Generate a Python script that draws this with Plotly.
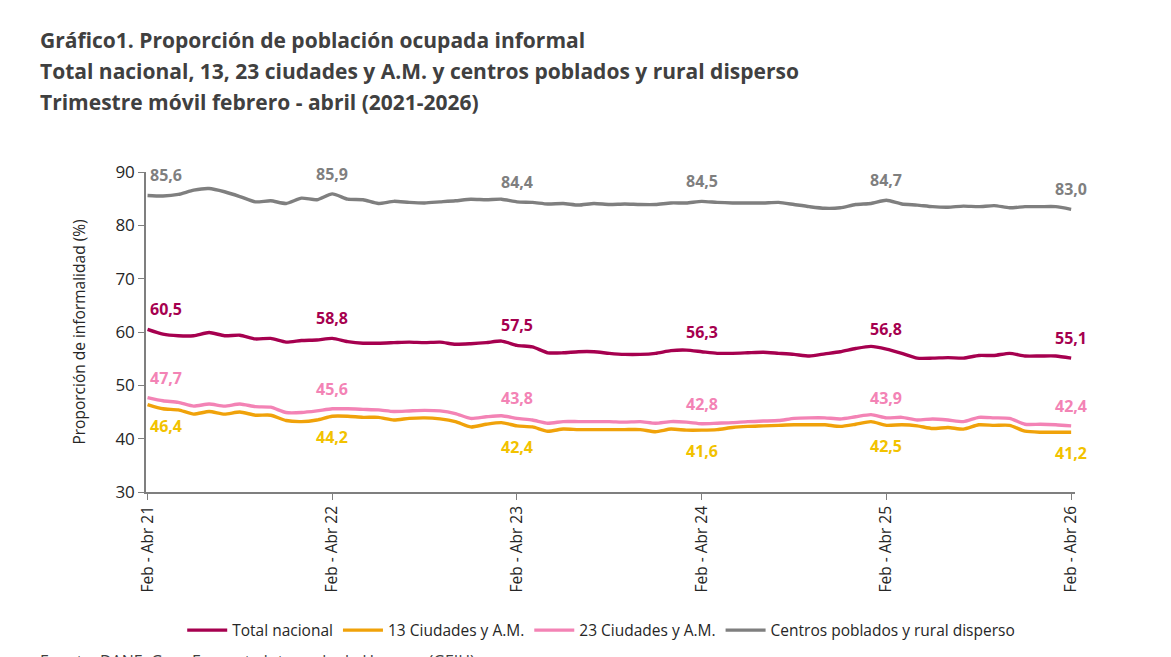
import plotly.graph_objects as go

# periodos: trimestre móvil, índice 0 = Feb - Abr 21 ... 60 = Feb - Abr 26
periodos = list(range(61))
tick_pos = [0, 12, 24, 36, 48, 60]
tick_labels = ["Feb - Abr 21", "Feb - Abr 22", "Feb - Abr 23",
               "Feb - Abr 24", "Feb - Abr 25", "Feb - Abr 26"]

total_nacional = [
    60.5, 59.6, 59.3, 59.3, 59.9, 59.3, 59.4, 58.7, 58.8, 58.1,
    58.4, 58.5, 58.8, 58.2, 57.9, 57.9, 58.0, 58.1, 58.0, 58.1,
    57.7, 57.8, 58.0, 58.3, 57.5, 57.2, 56.1, 56.1, 56.3, 56.3,
    56.0, 55.8, 55.8, 56.0, 56.5, 56.6, 56.3, 56.0, 56.0, 56.1,
    56.2, 56.0, 55.8, 55.5, 55.9, 56.3, 56.9, 57.3, 56.8, 56.0,
    55.1, 55.1, 55.2, 55.1, 55.6, 55.6, 56.0, 55.5, 55.5, 55.5, 55.1,
]
ciudades_13 = [
    46.4, 45.6, 45.4, 44.6, 45.1, 44.6, 45.0, 44.4, 44.4, 43.4,
    43.2, 43.5, 44.2, 44.2, 44.0, 44.0, 43.5, 43.8, 43.9, 43.7,
    43.2, 42.2, 42.7, 43.0, 42.4, 42.2, 41.4, 41.8, 41.7, 41.7,
    41.7, 41.7, 41.7, 41.3, 41.8, 41.6, 41.6, 41.7, 42.1, 42.3,
    42.4, 42.5, 42.6, 42.6, 42.6, 42.3, 42.7, 43.2, 42.5, 42.6,
    42.4, 41.9, 42.1, 41.8, 42.6, 42.5, 42.5, 41.4, 41.2, 41.2, 41.2,
]
ciudades_23 = [
    47.7, 47.1, 46.8, 46.1, 46.5, 46.1, 46.5, 46.0, 45.9, 44.9,
    44.9, 45.2, 45.6, 45.6, 45.5, 45.4, 45.1, 45.2, 45.3, 45.2,
    44.7, 43.8, 44.1, 44.3, 43.8, 43.5, 42.9, 43.2, 43.2, 43.2,
    43.2, 43.1, 43.2, 42.9, 43.2, 43.1, 42.8, 42.9, 43.0, 43.2,
    43.3, 43.4, 43.8, 43.9, 43.9, 43.7, 44.1, 44.5, 43.9, 44.0,
    43.5, 43.7, 43.5, 43.2, 44.0, 43.9, 43.8, 42.7, 42.7, 42.6, 42.4,
]
rural_disperso = [
    85.6, 85.5, 85.8, 86.6, 86.9, 86.3, 85.4, 84.4, 84.6, 84.1,
    85.1, 84.8, 85.9, 84.9, 84.8, 84.1, 84.5, 84.3, 84.2, 84.4,
    84.6, 84.9, 84.8, 84.9, 84.4, 84.3, 84.0, 84.1, 83.8, 84.1,
    83.9, 84.0, 83.9, 83.9, 84.2, 84.2, 84.5, 84.3, 84.2, 84.2,
    84.2, 84.3, 83.9, 83.5, 83.2, 83.3, 83.9, 84.1, 84.7, 84.0,
    83.8, 83.5, 83.4, 83.6, 83.5, 83.7, 83.3, 83.5, 83.5, 83.5, 83.0,
]

series = [
    ("Total nacional", total_nacional, "#A6004F", "#A6004F", 20),
    ("13 Ciudades y A.M.", ciudades_13, "#F0A20A", "#F2C200", -21),
    ("23 Ciudades y A.M.", ciudades_23, "#F383B5", "#F383B5", 20),
    ("Centros poblados y rural disperso", rural_disperso, "#7F7F7F", "#7F7F7F", 20),
]

fig = go.Figure()
for name, vals, color, lab_color, shift in series:
    fig.add_trace(go.Scatter(
        x=periodos, y=vals, name=name, mode="lines",
        line=dict(color=color, width=3.4, shape="spline", smoothing=0.6),
    ))
    for i in tick_pos:
        fig.add_annotation(
            x=periodos[i], y=vals[i],
            text="<b>" + f"{vals[i]:.1f}".replace(".", ",") + "</b>",
            showarrow=False, yshift=shift,
            xanchor="left" if i == 0 else "center",
            font=dict(color=lab_color, size=16, family="Open Sans"),
        )

# la página tiene 8 px de margen en el body, por eso los márgenes van corridos
titulos = ["<b>Gráfico1. Proporción de población ocupada informal</b>",
           "<b>Total nacional, 13, 23 ciudades y A.M. y centros poblados y rural disperso</b>",
           "<b>Trimestre móvil febrero - abril (2021-2026)</b>"]
for k, t in enumerate(titulos):
    fig.add_annotation(
        text=t, xref="paper", yref="paper", x=0, y=1, xanchor="left", yanchor="middle",
        xshift=-108, yshift=132 - 31 * k, showarrow=False,
        font=dict(size=21, color="#404040", family="Open Sans"),
    )

fig.add_annotation(
    text="Fuente: DANE, Gran Encuesta Integrada de Hogares (GEIH)",
    xref="paper", yref="paper", x=0, y=0, xanchor="left", yanchor="top",
    xshift=-108, yshift=-156, showarrow=False,
    font=dict(size=16, color="#404040", family="Open Sans"),
)

fig.update_layout(
    width=1171, height=657,
    paper_bgcolor="white", plot_bgcolor="white",
    margin=dict(l=138, r=104, t=164, b=173),
    font=dict(family="Open Sans", color="#404040"),
    showlegend=True,
    legend=dict(orientation="h", x=0.49, xanchor="center", y=-0.38, yanchor="top",
                font=dict(size=15.5, color="#262626"), itemwidth=40),
)
fig.update_xaxes(
    range=[-0.1, 60.25], tickvals=tick_pos, ticktext=tick_labels, tickangle=-90,
    showline=True, linecolor="#7F7F7F", linewidth=1.5, showgrid=False, zeroline=False,
    ticks="outside", ticklen=6, tickcolor="#7F7F7F",
    tickfont=dict(size=15.5, color="#262626"),
)
fig.update_yaxes(
    range=[30, 90], dtick=10, showgrid=False, zeroline=False,
    showline=True, linecolor="#7F7F7F", linewidth=1.5,
    ticks="outside", ticklen=6, tickcolor="#7F7F7F",
    tickfont=dict(size=17, color="#262626"),
    title=dict(text="Proporción de informalidad (%)", font=dict(size=15.5, color="#262626"), standoff=26),
)

fig.write_html("out.html")
